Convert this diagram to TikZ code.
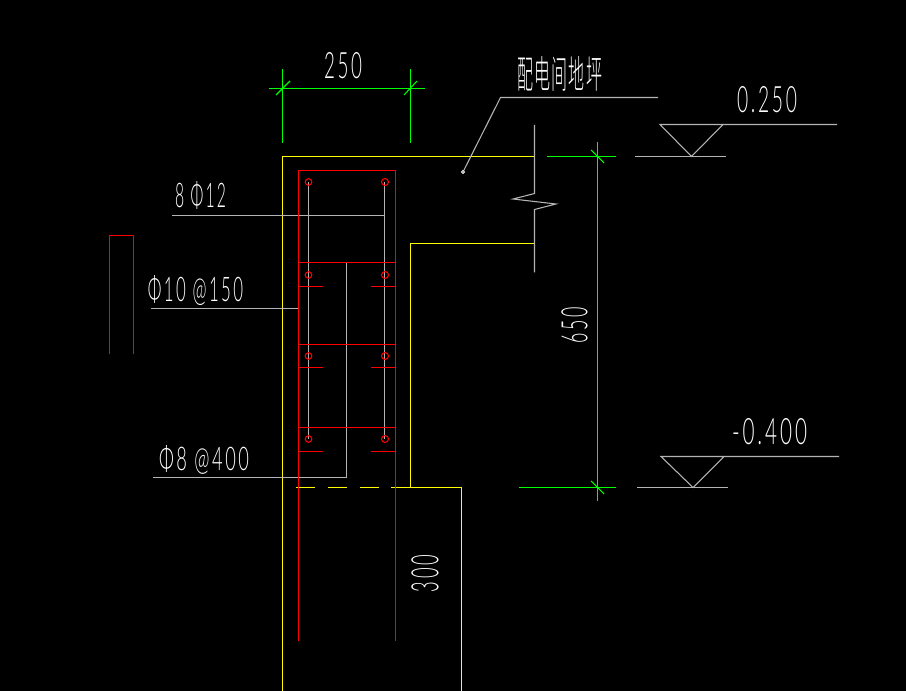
\documentclass[tikz,border=0pt]{standalone}
\usepackage{graphicx}
\usepackage{fontspec}
\setmainfont{Lato Light}[LetterSpace=14]
\newfontfamily\cjkfont{Noto Sans CJK SC Light}[LetterSpace=8]
\newcommand{\cadtext}[3]{\resizebox{#1\dimexpr0.75pt\relax}{#2\dimexpr0.75pt\relax}{#3}}
\tikzset{
  px/.style={x=0.75pt,y=-0.75pt},
  yel/.style={draw={rgb,255:red,255;green,255;blue,0},line width=0.8pt},
  redl/.style={draw={rgb,255:red,255;green,0;blue,0},line width=0.8pt},
  grn/.style={draw={rgb,255:red,0;green,255;blue,0},line width=0.8pt},
  gry/.style={draw={rgb,255:red,180;green,180;blue,180},line width=0.8pt},
  lbl/.style={text=white,inner sep=0pt,outer sep=0pt}
}
\begin{document}
\begin{tikzpicture}[px]
\fill[black] (0,0) rectangle (906,691);
\useasboundingbox (0,0) rectangle (906,691);
% yellow concrete outline
\draw[yel] (282.5,691) -- (282.5,156.5) -- (534.5,156.5);
\draw[yel] (534.5,243.5) -- (410.5,243.5) -- (410.5,487.5);
\draw[yel] (391,487.5) -- (461.5,487.5) -- (461.5,691);
\draw[yel] (296,487.5) -- (315,487.5);
\draw[yel] (328,487.5) -- (347,487.5);
\draw[yel] (360,487.5) -- (379,487.5);
% gray rebars and leaders
\draw[gry] (308.5,182) -- (308.5,439);
\draw[gry] (384.5,182) -- (384.5,439);
\draw[gry] (172,215.5) -- (384.5,215.5);
\draw[gry] (151,308.5) -- (298.5,308.5);
\draw[gry] (346.5,262.5) -- (346.5,477.5) -- (153,477.5);
\draw[gry] (463,172) -- (500.5,97.5) -- (658,97.5);
\draw[gry] (534.5,125) -- (534.5,193.5) -- (513,199) -- (556,204) -- (534.5,209.5) -- (534.5,272.5);
\draw[white,line width=0.6pt,fill=black] (463,172) circle[radius=1.5];
% red stirrups
\draw[redl] (298.5,641) -- (298.5,170.5) -- (395.5,170.5) -- (395.5,641);
\foreach \yy in {262.5,344.5,427.5} \draw[redl] (298.5,\yy) -- (395.5,\yy);
\foreach \yy in {286.5,367.5,451.5} {
  \draw[redl] (298.5,\yy) -- (322.5,\yy);
  \draw[redl] (371,\yy) -- (395.5,\yy);
}
\foreach \yy in {182,275,356,439} {
  \draw[redl] (308.5,\yy) circle[radius=3.3];
  \draw[redl] (385,\yy) circle[radius=3.5];
}
\draw[redl] (109.5,354) -- (109.5,235.5) -- (133.5,235.5) -- (133.5,354);
% green dimensions
\draw[grn] (269,88.5) -- (425,88.5);
\draw[grn] (282.5,69) -- (282.5,143.5);
\draw[grn] (410.5,69) -- (410.5,143.5);
\draw[grn] (276,95) -- (290,81);
\draw[grn] (404,95) -- (417,81);
\draw[grn] (597.5,142) -- (597.5,501);
\draw[grn] (547,156.5) -- (616,156.5);
\draw[grn] (519,487.5) -- (616,487.5);
\draw[grn] (591,150) -- (604,163);
\draw[grn] (591,481) -- (604,494);
% level marks
\draw[gry] (635,156.5) -- (726,156.5);
\draw[gry] (837,124.5) -- (660,124.5) -- (691.5,156.5) -- (723,124.5);
\draw[gry] (637,487.5) -- (728,487.5);
\draw[gry] (839,456.5) -- (661,456.5) -- (693,487.5) -- (724,456.5);
% texts
\node[lbl] (t250) at (343,65.5) {\cadtext{38}{26}{250}};
\node[lbl] (troom) at (559.5,74) {\cadtext{85}{32}{\cjkfont 配电间地坪}};
\node[lbl] (tup) at (767,99.5) {\cadtext{60}{26}{0.250}};
\node[lbl] (tdown) at (769.5,431.5) {\cadtext{75}{26}{-0.400}};
\node[lbl] (tmain) at (200.5,195.5) {\cadtext{51}{26}{8 Φ12}};
\node[lbl] (tstir) at (195.5,290.5) {\cadtext{95}{26}{Φ10 @150}};
\node[lbl] (ttie) at (204,460) {\cadtext{90}{25}{Φ8 @400}};
\node[lbl,rotate=90] (t650) at (574.5,325) {\cadtext{36}{26}{650}};
\node[lbl,rotate=90] (t300) at (425,573.5) {\cadtext{37}{27}{300}};
\end{tikzpicture}
\end{document}
